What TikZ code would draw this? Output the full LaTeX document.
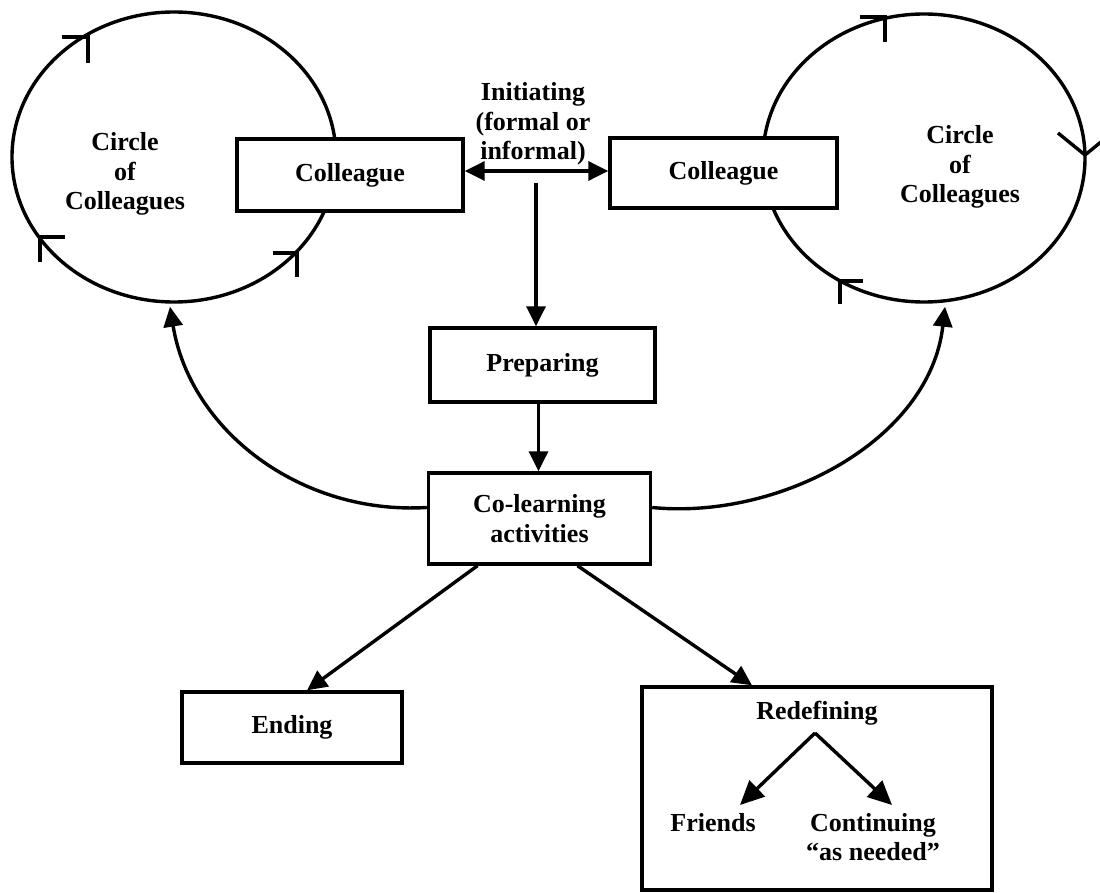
\documentclass[tikz,border=0pt]{standalone}
\usepackage{fontspec}
\setmainfont{Liberation Serif}
\usetikzlibrary{shapes.geometric,arrows.meta,calc}
\begin{document}
\begin{tikzpicture}[x=1pt,y=-1pt,
  arr/.tip={Triangle[length=20pt,width=19pt]},
  every node/.style={font=\bfseries\fontsize{26}{29.5}\selectfont, inner sep=0pt},
  box/.style={draw, line width=3.4pt, rectangle, align=center, fill=white},
  circ/.style={draw, line width=3.4pt, ellipse},
  lbl/.style={align=center},
  conn/.style={line width=3.4pt, -arr},
  tick/.style={line width=3.4pt, line cap=butt, line join=miter}
]
\useasboundingbox (0,0) rectangle (1100,893);

% circles of colleagues
\node[circ, minimum width=324pt, minimum height=290pt] (cl) at (174,157) {};
\node[circ, minimum width=322pt, minimum height=288pt] (cr) at (924,158) {};
\node[lbl] (cltxt) at (125,174) {Circle\\of\\Colleagues};
\node[lbl] (crtxt) at (960,167) {Circle\\of\\Colleagues};

% direction ticks on the circles
\draw[tick] (62,37) -- (88,37) -- (88,63);
\draw[tick] (65,237) -- (40,237) -- (40,262);
\draw[tick] (273,253) -- (297,253) -- (297,277);
\draw[tick] (860,17) -- (885,17) -- (885,42);
\draw[tick] (1058,133) -- (1085,155) -- (1112,133);
\draw[tick] (863,281) -- (840,281) -- (840,304);

% boxes
\node[box, minimum width=226pt, minimum height=72pt] (colL) at (350,175) {Colleague};
\node[box, minimum width=227pt, minimum height=70pt] (colR) at (723.5,173) {Colleague};
\node[lbl] (init) at (533,124) {Initiating\\(formal or\\informal)};
\node[box, minimum width=225pt, minimum height=74pt] (prep) at (542.5,365) {Preparing};
\node[box, minimum width=222pt, minimum height=91pt] (colearn) at (539.5,518.5) {Co-learning\\activities};
\node[box, minimum width=220pt, minimum height=71pt] (ending) at (292,727.5) {Ending};
\node[box, minimum width=350pt, minimum height=203pt] (redef) at (817,788.5) {};
\node (redeftxt) at (817,713) {Redefining};
\node (friends) at (713,823) {Friends};
\node[lbl] (cont) at (873,837) {Continuing\\“as needed”};

% connectors
\draw[line width=3.4pt, arr-arr] ([yshift=4pt]colL.east) -- ([yshift=2pt]colR.west);
\coordinate (istart) at (536,183);
\draw[conn] (istart) -- (istart |- prep.north);
\draw[conn] ([xshift=-4pt]prep.south) -- ([xshift=-4pt]prep.south |- colearn.north);
\draw[conn] ($(colearn.west)+(0,-11)$) .. controls (300,515) and (190,430) .. ($(cl.south)+(-4,3)$);
\draw[conn] ($(colearn.east)+(0,-11)$) .. controls (780,520) and (930,440) .. ($(cr.south)+(21,3)$);
\draw[conn] ($(colearn.south)+(-62,0)$) -- ($(ending.north)+(15,0)$);
\draw[conn] ($(colearn.south)+(38,0)$) -- ($(redef.north)+(-65,0)$);

\coordinate (apex) at (815,733);
\coordinate (ftip) at (740,805);
\coordinate (ctip) at (892,805);
\draw[line width=3.4pt, -{Triangle[length=24pt,width=22pt]}] (apex) -- (ftip);
\draw[line width=3.4pt, -{Triangle[length=24pt,width=22pt]}] (apex) -- (ctip);
\end{tikzpicture}
\end{document}
